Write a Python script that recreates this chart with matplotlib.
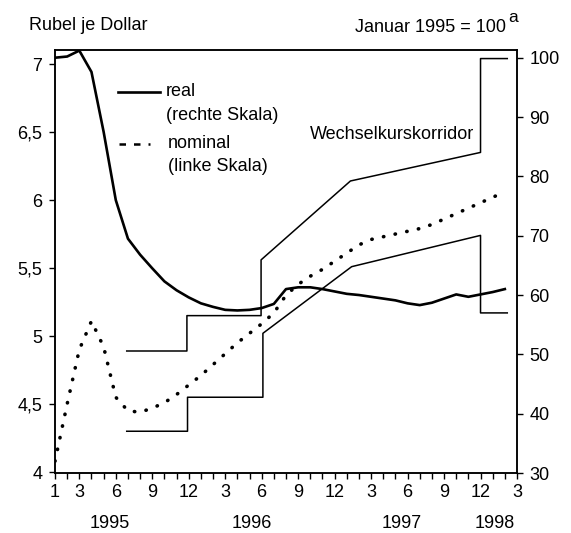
import matplotlib
matplotlib.use('Agg')
import matplotlib.pyplot as plt

plt.rcParams['font.family'] = ['Liberation Sans', 'DejaVu Sans']
plt.rcParams['font.size'] = 13

# months since Jan 1995 (0 = Jan 1995)
months = list(range(38))

# real exchange rate, Jan 1995 = 100 (right scale)
real = [100.0, 100.2, 101.2, 97.6, 87.5, 76.0, 69.5, 66.8, 64.5, 62.3,
        60.8, 59.6, 58.6, 58.0, 57.5, 57.4, 57.5, 57.8, 58.5, 61.0,
        61.3, 61.3, 61.0, 60.6, 60.2, 60.0, 59.7, 59.4, 59.1, 58.6,
        58.3, 58.7, 59.4, 60.1, 59.7, 60.1, 60.5, 61.0]

# nominal rate, thousand rubles per dollar (left scale)
nominal = [4.08, 4.50, 4.90, 5.11, 4.92, 4.55, 4.45, 4.44, 4.47, 4.51,
           4.57, 4.64, 4.71, 4.79, 4.87, 4.95, 5.02, 5.09, 5.17, 5.30,
           5.38, 5.44, 5.49, 5.55, 5.61, 5.67, 5.71, 5.73, 5.75, 5.77,
           5.79, 5.82, 5.86, 5.90, 5.94, 5.98, 6.02, 6.06]

# exchange rate corridor (left scale)
upper_x = [5.9, 10.85, 10.85, 16.95, 16.95, 24.3, 35.0, 35.0, 37.2]
upper_y = [4.89, 4.89, 5.15, 5.15, 5.56, 6.14, 6.35, 7.04, 7.04]
lower_x = [5.9, 10.9, 10.9, 17.1, 17.1, 24.4, 35.0, 35.0, 37.2]
lower_y = [4.30, 4.30, 4.55, 4.55, 5.02, 5.51, 5.74, 5.17, 5.17]

xtick_pos = [0, 2, 5, 8, 11, 14, 17, 20, 23, 26, 29, 32, 35, 38]
xtick_lab = ['1', '3', '6', '9', '12', '3', '6', '9', '12', '3', '6', '9', '12', '3']
years = ['1995', '1996', '1997', '1998']
year_pos = [4.5, 16.2, 28.5, 36.2]

left_ticks = [4, 4.5, 5, 5.5, 6, 6.5, 7]
left_lab = ['4', '4,5', '5', '5,5', '6', '6,5', '7']
right_ticks = [30, 40, 50, 60, 70, 80, 90, 100]

fig = plt.figure(figsize=(5.71, 5.33), dpi=100)
ax = fig.add_axes([55 / 571, 1 - 473 / 533, 462 / 571, 423 / 533])

ax.plot(months, nominal, color='black', lw=2.6, ls=(0, (0.1, 3.2)),
        dash_capstyle='round')
ax.plot(upper_x, upper_y, color='black', lw=1.1)
ax.plot(lower_x, lower_y, color='black', lw=1.1)
ax.set_xlim(0, 38)
ax.set_ylim(3.993, 7.103)

ax2 = ax.twinx()
ax2.plot(months, real, color='black', lw=1.9)
ax2.set_ylim(30, 101.3)

for sp in list(ax.spines.values()) + list(ax2.spines.values()):
    sp.set_linewidth(1.1)

ax.set_xticks(xtick_pos, xtick_lab)
ax.set_xticks(range(39), minor=True)
ax.tick_params(axis='x', which='both', direction='out', length=4, width=1, pad=4)
ax.set_yticks(left_ticks, left_lab)
ax.tick_params(axis='y', direction='out', length=4, width=1, pad=5)
ax2.set_yticks(right_ticks)
ax2.tick_params(axis='y', direction='out', length=4, width=1, pad=5)

for yr, p in zip(years, year_pos):
    ax.text(p, -0.12, yr, transform=ax.get_xaxis_transform(),
            ha='center', va='center')

# legend drawn by hand
ax.plot([0.136, 0.227], [0.900, 0.900], transform=ax.transAxes,
        color='black', lw=1.9)
ax.plot([0.1385, 0.206], [0.777, 0.777], transform=ax.transAxes,
        color='black', lw=1.8, ls=(0, (2.6, 3.2)))
ax.text(0.240, 0.902, 'real', transform=ax.transAxes, va='center')
ax.text(0.240, 0.846, '(rechte Skala)', transform=ax.transAxes, va='center')
ax.text(0.244, 0.779, 'nominal', transform=ax.transAxes, va='center')
ax.text(0.244, 0.724, '(linke Skala)', transform=ax.transAxes, va='center')
ax.text(0.907, 0.801, 'Wechselkurskorridor', transform=ax.transAxes,
        ha='right', va='center')

fig.text(29 / 571, 1 - 25 / 533, 'Rubel je Dollar', va='center')
fig.text(506 / 571, 1 - 27 / 533, 'Januar 1995 = 100', ha='right', va='center')
fig.text(508 / 571, 1 - 17 / 533, 'a', ha='left', va='center', fontsize=12.5)

fig.savefig('out.png', dpi=100)
